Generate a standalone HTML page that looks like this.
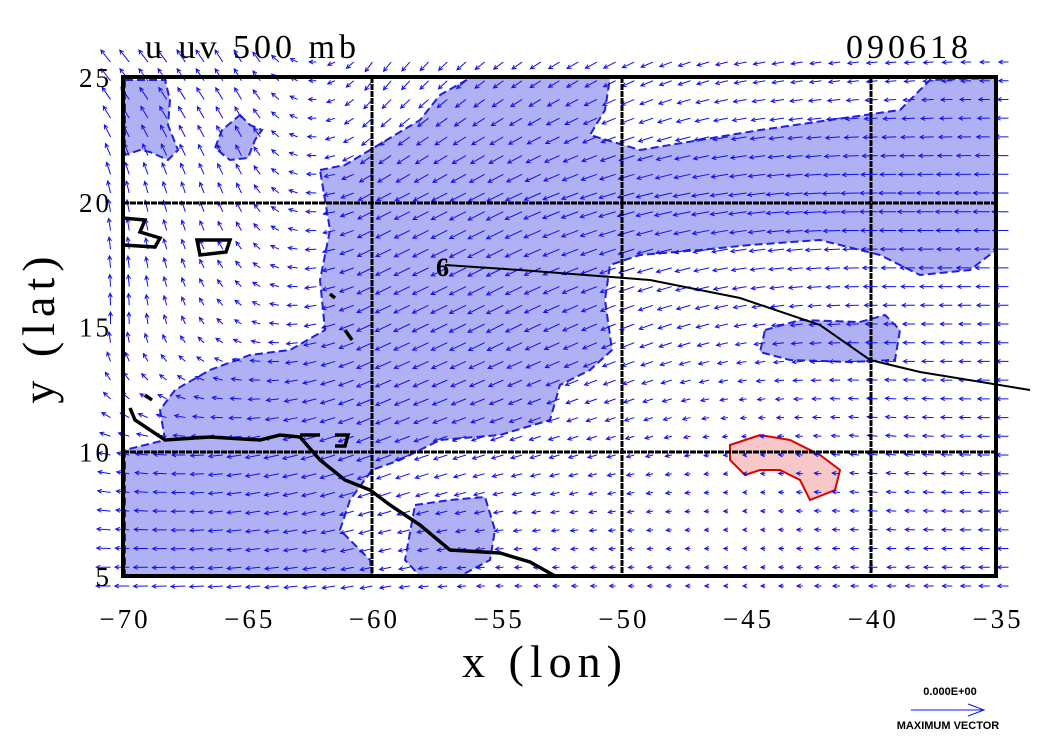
<!DOCTYPE html>
<html><head><meta charset="utf-8"><style>
body{margin:0;background:#fff}
svg{display:block;font-family:"Liberation Serif",serif}
</style></head><body>
<svg id="chart" width="1056" height="736" viewBox="0 0 1056 736" xmlns="http://www.w3.org/2000/svg">
<rect width="1056" height="736" fill="#fff"/>
<g id="shade" fill="#b0b0f4" stroke="#2020e0" stroke-width="2" stroke-dasharray="8,4">
<path d="M320,170 L345,165 L370,150 L420,120 L440,95 L470,78 L610,78 L605,110 L590,135 L640,150 L760,130 L900,110 L930,80 L996,78 L996,250 L970,270 L920,275 L880,255 L820,240 L750,245 L700,250 L640,255 L610,265 L605,300 L612,350 L590,370 L560,385 L550,420 L500,435 L440,440 L400,460 L372,470 L350,500 L340,530 L370,560 L372,576 L125,576 L125,450 L165,440 L160,410 L175,390 L210,370 L250,355 L290,350 L325,330 L320,280 L330,230 Z"/>
<path d="M125,80 L165,80 L170,100 L168,125 L178,150 L168,160 L150,152 L140,150 L125,155 Z"/>
<path d="M240,115 L250,125 L262,130 L255,140 L248,158 L230,160 L215,148 L222,130 Z"/>
<path d="M765,330 L800,320 L860,322 L885,315 L900,330 L895,360 L850,362 L790,360 L760,352 Z"/>
<path d="M415,505 L450,500 L485,497 L495,530 L490,560 L460,576 L420,576 L405,560 Z"/>
</g>
<path d="M730,445 L760,435 L790,440 L820,455 L840,470 L835,490 L810,500 L800,480 L780,470 L760,470 L745,475 L730,460 Z" fill="#f8c8c8" stroke="#e00000" stroke-width="2"/>
<g id="arrows" stroke="#1010f0" stroke-width="1" fill="none"></g>
<g stroke="#000" stroke-width="3" stroke-dasharray="6,1">
<line x1="372" y1="77" x2="372" y2="576"/><line x1="622" y1="77" x2="622" y2="576"/><line x1="871" y1="77" x2="871" y2="576"/>
<line x1="123" y1="203" x2="996" y2="203"/><line x1="123" y1="452" x2="996" y2="452"/>
</g>
<g stroke="#000" stroke-width="3.5" fill="none">
<path d="M130,408 L135,420 L165,440 L210,437 L260,440 L280,435 L300,437 L320,460 L345,480 L370,490 L390,505 L420,525 L450,550 L500,553 L530,562 L555,576"/>
<path d="M123,218 L145,220 L140,232 L160,238 L155,247 L123,245"/>
<path d="M197,240 L230,240 L226,252 L200,255 Z"/>
<path d="M300,435 L320,435 M335,435 L348,435 L345,446 L335,446"/>
<path d="M345,330 L352,340 M330,294 L335,298 M145,395 L152,400"/>
</g>
<path d="M445,265 L520,270 L650,280 L740,298 L820,325 L870,360 L920,372 L1030,390" stroke="#000" stroke-width="2" fill="none"/>
<text x="436" y="276" font-size="26" font-weight="bold">6</text>
<rect x="123" y="77" width="873" height="499" fill="none" stroke="#000" stroke-width="4"/>
<g id="ticks" font-size="27" letter-spacing="3" fill="#000"></g>
<text x="145" y="58" font-size="34" letter-spacing="4">u uv 500 mb</text>
<text x="972" y="58" font-size="34" letter-spacing="4" text-anchor="end">090618</text>
<text x="545" y="677" font-size="46" letter-spacing="6" text-anchor="middle">x (lon)</text>
<text transform="translate(54,327) rotate(-90)" font-size="46" letter-spacing="6" text-anchor="middle">y (lat)</text>
<g>
<text x="950" y="695" font-size="11" font-weight="bold" font-family="Liberation Sans,sans-serif" text-anchor="middle">0.000E+00</text>
<line x1="911" y1="710" x2="984" y2="710" stroke="#1010f0"/><path d="M968,704 L984,710 L968,716" stroke="#1010f0" fill="none"/>
<text x="948" y="729" font-size="11" font-weight="bold" font-family="Liberation Sans,sans-serif" text-anchor="middle">MAXIMUM VECTOR</text>
</g>
</svg>
<script>
const lons=[-70,-65,-60,-55,-50,-45,-40,-35];
const lats=[25,20,15,10,5];
const U=[[-0.8,-0.6,-0.6,-0.8,-1.0,-1.0,-0.9,-0.8],
[-0.2,-0.4,-1.2,-1.4,-1.4,-1.5,-1.5,-1.4],
[0.0,-0.6,-1.3,-1.4,-1.2,-1.0,-1.0,-1.0],
[-1.0,-1.2,-1.3,-1.0,-0.7,-0.3,-0.8,-1.0],
[-1.2,-1.2,-1.0,-0.6,-0.5,-0.3,-0.7,-0.9]];
const V=[[1.0,1.0,-0.8,-0.6,-0.5,-0.2,-0.1,0],
[1.0,0.8,-0.6,-0.7,-0.4,-0.2,0,0],
[1.0,0.3,-0.6,-0.7,-0.5,-0.2,0,0],
[0.2,-0.2,-0.5,-0.3,-0.2,0,0.1,0],
[0,-0.1,-0.2,0,0,0,0,0]];
const xTicks=[-70,-65,-60,-55,-50,-45,-40,-35];
const yTicks=[25,20,15,10,5];
const NS="http://www.w3.org/2000/svg";
const X=l=>123+(l+70)*873/35, Y=t=>77+(25-t)*499/20;
function field(A,lo,la){
 let fi=Math.max(0,Math.min(6.999,(lo+70)/5)), fj=Math.max(0,Math.min(3.999,(25-la)/5));
 let i=Math.floor(fi),j=Math.floor(fj),a=fi-i,b=fj-j;
 return A[j][i]*(1-a)*(1-b)+A[j][i+1]*a*(1-b)+A[j+1][i]*(1-a)*b+A[j+1][i+1]*a*b;
}
const g=document.getElementById('arrows');
for(let lo=-70.5;lo<=-34.5;lo+=0.75){for(let la=25.6;la>=4.4;la-=0.75){
 const u=field(U,lo,la),v=field(V,lo,la),s=12;
 const x0=X(lo),y0=Y(la),x1=x0+u*s,y1=y0-v*s;
 const L=Math.hypot(x1-x0,y1-y0)||1,dx=(x1-x0)/L,dy=(y1-y0)/L,h=4;
 const p=document.createElementNS(NS,'path');
 p.setAttribute('d',`M${x0},${y0}L${x1},${y1}M${x1-h*dx-h*0.5*dy},${y1-h*dy+h*0.5*dx}L${x1},${y1}L${x1-h*dx+h*0.5*dy},${y1-h*dy-h*0.5*dx}`);
 
 
 g.appendChild(p);
}}
const tg=document.getElementById('ticks');
xTicks.forEach(v=>{const t=document.createElementNS(NS,'text');t.setAttribute('x',X(v)+2);t.setAttribute('y',628);t.setAttribute('text-anchor','middle');t.textContent=(v<0?'\u2212':'')+Math.abs(v);


tg.appendChild(t);});
yTicks.forEach(v=>{const t=document.createElementNS(NS,'text');t.setAttribute('x',112);t.setAttribute('y',Y(v)+10);t.setAttribute('text-anchor','end');t.textContent=v;


tg.appendChild(t);});
</script>
</body></html>
